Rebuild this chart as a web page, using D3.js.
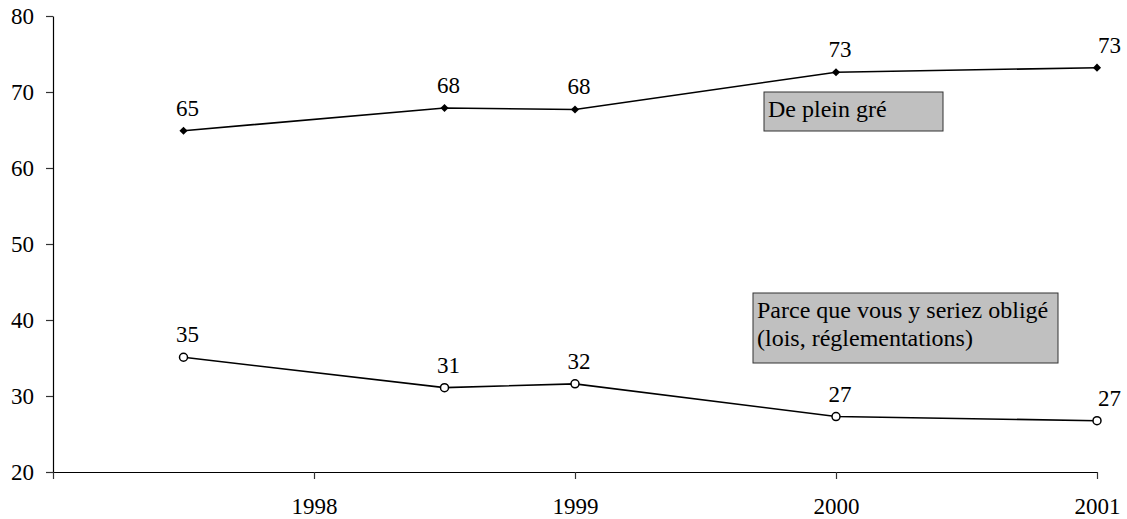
<!DOCTYPE html>
<html>
<head>
<meta charset="utf-8">
<script src="https://cdn.jsdelivr.net/npm/d3@7"></script>
</head>
<body style="margin:0;padding:0;background:#fff">
<svg id="chart" width="1127" height="519" font-family="Liberation Serif"></svg>
<script>
// ---- data ----
const years = [1997.5, 1998.5, 1999, 2000, 2001];
const pleinGre = [64.9, 67.9, 67.7, 72.6, 73.2];
const pleinGreLabels = ["65", "68", "68", "73", "73"];
const oblige = [35.1, 31.1, 31.6, 27.3, 26.75];
const obligeLabels = ["35", "31", "32", "27", "27"];
const xTicks = [1997, 1998, 1999, 2000, 2001];
const xTickLabels = ["", "1998", "1999", "2000", "2001"];
const yTicks = [20, 30, 40, 50, 60, 70, 80];
const legendPlein = ["De plein gré"];
const legendOblige = ["Parce que vous y seriez obligé", "(lois, réglementations)"];

// ---- layout ----
const W = 1127, H = 519;
const mLeft = 53, mRight = 1097, mTop = 16, mBottom = 472;
const fs = 23;
const FONT = "Liberation Serif";

const svg = d3.select("#chart");
svg.append("rect").attr("width", W).attr("height", H).attr("fill", "#fff");

const x = d3.scaleLinear().domain([1997, 2001]).range([mLeft, mRight]);
const y = d3.scaleLinear().domain([20, 80]).range([mBottom, mTop]);

function serifText(sel, size) {
  sel.attr("font-family", FONT).attr("font-size", size)
     .style("font-family", "'Liberation Serif'").style("font-size", size + "px")
     .attr("fill", "#000");
}

// y axis
const yAxis = svg.append("g").attr("transform", `translate(${mLeft},0)`)
  .call(d3.axisLeft(y).tickValues(yTicks).tickSize(7).tickPadding(12).tickSizeOuter(0));
yAxis.attr("font-family", FONT).attr("font-size", fs);
yAxis.select(".domain").attr("stroke", "#000").attr("stroke-width", 1.2);
yAxis.selectAll(".tick line").attr("stroke", "#333").attr("stroke-width", 1.2);
serifText(yAxis.selectAll(".tick text"), fs);

// x axis
const xAxis = svg.append("g").attr("transform", `translate(0,${mBottom})`)
  .call(d3.axisBottom(x).tickValues(xTicks).tickSize(7).tickSizeOuter(0)
    .tickFormat((d, i) => xTickLabels[i]));
xAxis.attr("font-family", FONT).attr("font-size", fs);
xAxis.select(".domain").attr("stroke", "#000").attr("stroke-width", 1.2);
xAxis.selectAll(".tick line").attr("stroke", "#333").attr("stroke-width", 1.2);
serifText(xAxis.selectAll(".tick text"), fs);
xAxis.selectAll(".tick text").attr("y", 42).attr("dy", 0);

// lines
const line = d3.line().x(d => x(d[0])).y(d => y(d[1]));
function series(vals, labels, marker) {
  const pts = years.map((yr, i) => [yr, vals[i], labels[i]]);
  svg.append("path").datum(pts).attr("d", line)
    .attr("fill", "none").attr("stroke", "#000").attr("stroke-width", 1.6);
  const g = svg.append("g");
  if (marker === "diamond") {
    g.selectAll("path.m").data(pts).join("path").attr("class", "m")
      .attr("d", d3.symbol(d3.symbolDiamond2, 42)())
      .attr("transform", d => `translate(${x(d[0])},${y(d[1])})`)
      .attr("fill", "#000");
  } else {
    g.selectAll("circle").data(pts).join("circle")
      .attr("cx", d => x(d[0])).attr("cy", d => y(d[1])).attr("r", 4)
      .attr("fill", "#fff").attr("stroke", "#000").attr("stroke-width", 1.5);
  }
  const t = g.selectAll("text").data(pts).join("text")
    .attr("x", d => (x(d[0]) > W - 40 ? W - 6 : x(d[0]) + 4))
    .attr("y", d => y(d[1]) - 15)
    .attr("text-anchor", d => (x(d[0]) > W - 40 ? "end" : "middle"))
    .text(d => d[2]);
  serifText(t, fs);
}
series(pleinGre, pleinGreLabels, "diamond");
series(oblige, obligeLabels, "circle");

// legend boxes
function box(lines, bx, by, bw, bh) {
  svg.append("rect").attr("x", bx).attr("y", by).attr("width", bw).attr("height", bh)
    .attr("fill", "#c0c0c0").attr("stroke", "#333").attr("stroke-width", 1);
  const t = svg.append("g").selectAll("text").data(lines).join("text")
    .attr("x", bx + 4).attr("y", (d, i) => by + 25 + i * 28)
    .text(d => d);
  serifText(t, 24);
}
box(legendPlein, 764, 92, 179, 39);
box(legendOblige, 753, 293, 305, 70);
</script>
</body>
</html>
